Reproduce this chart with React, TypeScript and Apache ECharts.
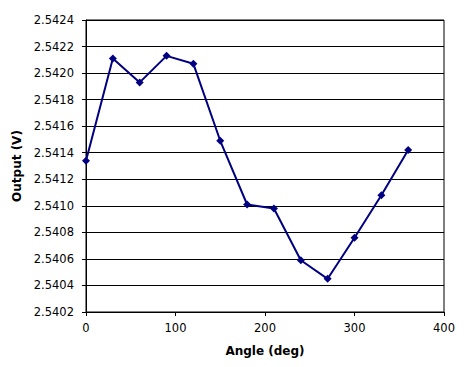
import React, { useEffect, useRef } from "react";
import * as echarts from "echarts";

const angles = [0, 30, 60, 90, 120, 150, 180, 210, 240, 270, 300, 330, 360];
const outputs = [2.54134, 2.54211, 2.54193, 2.54213, 2.54207, 2.54149, 2.54101, 2.54098, 2.54059, 2.54045, 2.54076, 2.54108, 2.54142];
const xName = "Angle (deg)";
const yName = "Output (V)";

export default function App() {
  const ref = useRef<HTMLDivElement>(null);
  useEffect(() => {
    const chart = echarts.init(ref.current!, null, { renderer: "svg" });
    const font = "Verdana, 'DejaVu Sans', sans-serif";
    chart.setOption({
      animation: false,
      backgroundColor: "#ffffff",
      grid: { left: 86, top: 20, right: 22, bottom: 55, show: true, borderColor: "#000", borderWidth: 1 },
      xAxis: {
        type: "value",
        min: 0,
        max: 400,
        interval: 100,
        name: xName,
        nameLocation: "middle",
        nameGap: 33,
        nameTextStyle: { fontFamily: font, fontSize: 12, fontWeight: "bold", color: "#000" },
        axisLine: { show: true, lineStyle: { color: "#000", width: 1 } },
        axisTick: { show: true, length: 4, lineStyle: { color: "#000" } },
        axisLabel: { fontFamily: font, fontSize: 11.5, color: "#000", margin: 10 },
        splitLine: { show: false },
      },
      yAxis: {
        type: "value",
        min: 2.5402,
        max: 2.5424,
        interval: 0.0002,
        name: yName,
        nameLocation: "middle",
        nameGap: 58,
        nameTextStyle: { fontFamily: font, fontSize: 12, fontWeight: "bold", color: "#000" },
        axisLine: { show: true, lineStyle: { color: "#000", width: 1 } },
        axisTick: { show: true, length: 4, lineStyle: { color: "#000" } },
        axisLabel: {
          fontFamily: font,
          fontSize: 11.5,
          color: "#000",
          margin: 12,
          formatter: (v: number) => v.toFixed(4),
        },
        splitLine: { show: true, lineStyle: { color: "#000", width: 1 } },
      },
      series: [
        {
          type: "line",
          data: angles.map((a, i) => [a, outputs[i]]),
          symbol: "diamond",
          symbolSize: 8,
          lineStyle: { color: "#000080", width: 2 },
          itemStyle: { color: "#000080" },
        },
      ],
    });
    return () => chart.dispose();
  }, []);
  return <div ref={ref} style={{ width: 466, height: 367, margin: -8 }} />;
}
